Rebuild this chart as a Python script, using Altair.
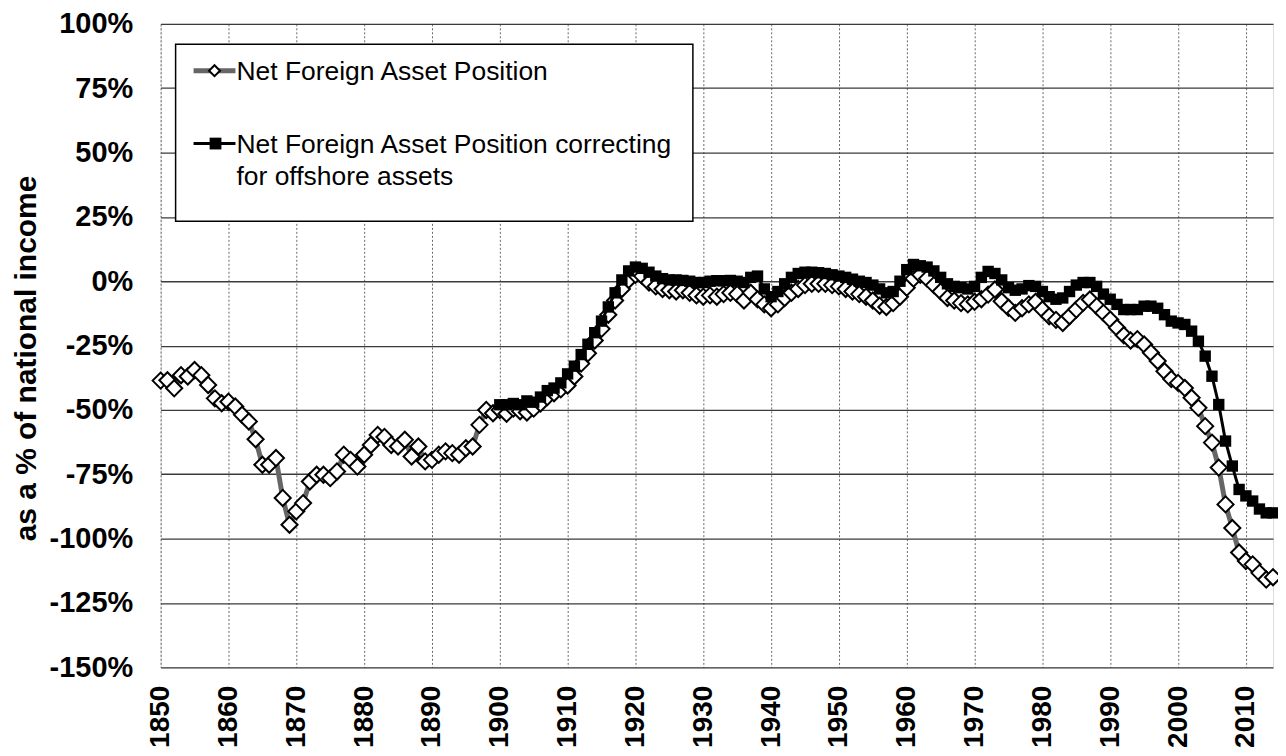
import altair as alt
import pandas as pd

# ---- data ----
years = list(range(1850, 2015))
nfa = [
    -38.6, -38.5, -41.6, -36.5, -37.0, -34.5, -36.5, -40.3, -45.5, -47.4,
    -46.8, -48.7, -51.9, -54.5, -61.4, -71.3, -71.3, -68.7, -84.2, -94.6,
    -89.4, -86.2, -77.8, -75.2, -75.2, -76.5, -73.9, -67.4, -69.4, -72.0,
    -67.4, -63.6, -59.7, -60.5, -63.6, -64.2, -61.6, -68.1, -64.2, -70.0,
    -69.4, -67.4, -66.1, -66.8, -67.4, -64.9, -64.2, -55.8, -50.0, -51.3,
    -50.0, -51.5, -49.5, -50.5, -51.0, -49.5, -47.5, -45.0, -43.5, -42.0,
    -40.5, -37.0, -32.0, -28.0, -23.0, -18.5, -13.0, -7.5, -3.0, 0.5,
    2.5, 2.0, -0.5, -2.0, -3.0, -3.5, -4.0, -3.5, -4.5, -5.5,
    -6.0, -5.5, -6.0, -5.0, -4.5, -5.0, -7.5, -4.5, -7.0, -9.0,
    -10.5, -9.0, -6.5, -4.5, -3.0, -1.5, -1.0, -1.0, -1.0, -1.5,
    -2.0, -3.0, -4.0, -5.0, -6.0, -7.5, -9.5, -10.0, -8.5, -6.0,
    -2.5, 1.0, 2.5, 1.0, -1.5, -4.0, -6.5, -7.5, -8.5, -9.0,
    -8.0, -7.0, -5.2, -3.2, -7.8, -10.3, -12.3, -10.5, -9.0, -8.0,
    -11.0, -13.6, -15.0, -16.2, -13.6, -11.0, -8.4, -7.1, -9.7, -12.3,
    -14.9, -18.1, -21.0, -23.0, -22.5, -24.6, -27.8, -31.0, -35.0, -38.0,
    -39.5, -41.5, -45.3, -49.2, -56.3, -62.7, -72.4, -86.7, -95.9, -105.4,
    -108.7, -110.0, -113.3, -115.9, -115.0,
]

years_corr = list(range(1900, 2015))
nfa_corr = [
    -48.0, -48.0, -47.5, -48.0, -46.5, -47.0, -45.0, -42.5, -41.5, -39.5,
    -36.0, -33.0, -28.5, -24.5, -20.0, -15.5, -10.0, -4.5, 0.5, 4.0,
    5.5, 5.0, 3.5, 2.0, 1.0, 0.5, 0.5, 0.3, 0.0, -0.5,
    -0.5, 0.0, 0.2, 0.2, 0.3, 0.0, -0.5, 1.5, 2.0, -3.0,
    -6.0, -4.0, -1.0, 1.5, 3.0, 3.5, 3.5, 3.3, 3.0, 2.5,
    2.0, 1.5, 0.8, 0.0, -0.5, -1.5, -3.0, -4.5, -4.0, 0.0,
    4.5, 6.5, 6.0, 5.5, 4.0, 1.5, -1.0, -2.0, -2.5, -3.0,
    -2.0, 1.5, 3.8, 3.0, 0.5, -2.5, -3.5, -3.0, -1.7, -2.0,
    -4.0, -6.0, -7.0, -6.5, -4.0, -1.5, -0.5, -0.5, -2.0, -5.0,
    -7.0, -9.0, -11.0, -11.0, -11.0, -9.7, -9.7, -10.5, -13.0, -15.5,
    -16.2, -16.8, -19.4, -23.3, -29.1, -36.9, -47.9, -62.1, -71.8, -80.9,
    -83.4, -85.4, -88.5, -90.0, -90.0,
]

x_ticks = list(range(1850, 2011, 10))
y_ticks = list(range(-150, 101, 25))
legend_line1 = "Net Foreign Asset Position"
legend_line2a = "Net Foreign Asset Position correcting"
legend_line2b = "for offshore assets"
y_title = "as a % of national income"

FONT = "Liberation Sans"
W, H = 1115, 645

df1 = pd.DataFrame({"year": years, "value": nfa})
df2 = pd.DataFrame({"year": years_corr, "value": nfa_corr})

xenc = alt.X(
    "year:Q",
    scale=alt.Scale(domain=[1850, 2014], nice=False, zero=False),
    axis=alt.Axis(
        values=x_ticks, format="d", labelAngle=-90, title=None, ticks=False,
        domain=False, labelFont=FONT, labelFontSize=28, labelFontWeight="bold",
        labelColor="black", labelPadding=18, labelOverlap=False,
        grid=True, gridColor="#666666", gridDash=[2, 2], gridWidth=1,
    ),
)
yenc = alt.Y(
    "value:Q",
    scale=alt.Scale(domain=[-150, 100], nice=False, zero=False),
    axis=alt.Axis(
        values=y_ticks, labelExpr="datum.value + '%'", title=y_title,
        ticks=False, domain=False, labelFont=FONT, labelFontSize=29,
        labelFontWeight="bold", labelColor="black", labelPadding=28,
        titleFont=FONT, titleFontSize=30, titleFontWeight="bold",
        titleColor="black", titleX=-125, titleY=335, titleBaseline="alphabetic",
        grid=True, gridColor="#3a3a3a", gridWidth=1.3,
    ),
)

line1 = alt.Chart(df1).mark_line(color="#666666", strokeWidth=5).encode(x=xenc, y=yenc)
pts1 = alt.Chart(df1).mark_point(
    shape="diamond", filled=True, fill="white", stroke="black",
    strokeWidth=2, size=260, opacity=1,
).encode(x="year:Q", y="value:Q")
line2 = alt.Chart(df2).mark_line(color="black", strokeWidth=3).encode(x="year:Q", y="value:Q")
pts2 = alt.Chart(df2).mark_point(
    shape="square", filled=True, color="black", size=130, opacity=1,
).encode(x="year:Q", y="value:Q")

one = alt.Data(values=[{}])
box = alt.Chart(one).mark_rect(fill="white", stroke="black", strokeWidth=1.5).encode(
    x=alt.value(15), x2=alt.value(533.5), y=alt.value(20.5), y2=alt.value(198)
)
lg_l1 = alt.Chart(one).mark_rule(color="#666666", strokeWidth=5).encode(
    x=alt.value(33), x2=alt.value(75), y=alt.value(47)
)
lg_p1 = alt.Chart(one).mark_point(
    shape="diamond", filled=True, fill="white", stroke="black", strokeWidth=2,
    size=120, opacity=1,
).encode(x=alt.value(54), y=alt.value(47))
lg_t1 = alt.Chart(one).mark_text(
    align="left", baseline="alphabetic", font=FONT, fontSize=26.5, color="black"
).encode(x=alt.value(76), y=alt.value(56), text=alt.value(legend_line1))
lg_l2 = alt.Chart(one).mark_rule(color="black", strokeWidth=3).encode(
    x=alt.value(33), x2=alt.value(75), y=alt.value(120)
)
lg_p2 = alt.Chart(one).mark_point(
    shape="square", filled=True, color="black", size=140, opacity=1
).encode(x=alt.value(55), y=alt.value(120))
lg_t2a = alt.Chart(one).mark_text(
    align="left", baseline="alphabetic", font=FONT, fontSize=26.5, color="black"
).encode(x=alt.value(76), y=alt.value(129), text=alt.value(legend_line2a))
lg_t2b = alt.Chart(one).mark_text(
    align="left", baseline="alphabetic", font=FONT, fontSize=26.5, color="black"
).encode(x=alt.value(76), y=alt.value(162), text=alt.value(legend_line2b))

chart = alt.layer(
    line1, pts1, line2, pts2, box, lg_l1, lg_p1, lg_t1, lg_l2, lg_p2, lg_t2a, lg_t2b
).properties(
    width=W, height=H,
    padding={"left": 153, "top": 15, "right": 5, "bottom": 80},
    autosize=alt.AutoSizeParams(type="none"),
).configure_view(
    stroke="#555555", strokeWidth=2
).configure(font=FONT, background="white")

chart.save("out.html", embed_options={"renderer": "svg", "actions": False})
